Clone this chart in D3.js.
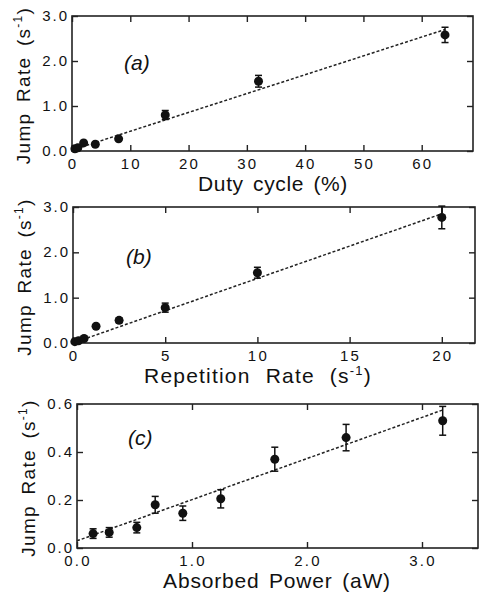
<!DOCTYPE html>
<html>
<head>
<meta charset="utf-8">
<script src="https://cdn.jsdelivr.net/npm/d3@7"></script>
<style>
  body { margin:0; background:#fff; }
  text { font-family:"Liberation Sans", Arial, sans-serif; fill:#111; }
</style>
</head>
<body>
<svg id="fig" width="479" height="592"></svg>
<script>
// panel (a): duty cycle
var dutyX   = [0.5, 1, 2, 4, 8, 16, 32, 64];
var dutyY   = [0.05, 0.07, 0.18, 0.15, 0.27, 0.80, 1.55, 2.58];
var dutyErr = [0, 0, 0, 0, 0, 0.10, 0.13, 0.17];
var dutyFit = [[0, 0.02], [64, 2.70]];
var dutyTicks = [0, 10, 20, 30, 40, 50, 60];

// panel (b): repetition rate
var repX   = [0.1, 0.3, 0.6, 1.25, 2.5, 5, 10, 20];
var repY   = [0.03, 0.05, 0.10, 0.37, 0.50, 0.78, 1.55, 2.77];
var repErr = [0, 0, 0, 0, 0.05, 0.10, 0.12, 0.25];
var repFit = [[0, 0.0], [20, 2.85]];
var repTicks = [0, 5, 10, 15, 20];

// panel (c): absorbed power
var powX   = [0.14, 0.28, 0.52, 0.68, 0.92, 1.25, 1.72, 2.34, 3.18];
var powY   = [0.06, 0.065, 0.085, 0.18, 0.145, 0.205, 0.37, 0.46, 0.53];
var powErr = [0.02, 0.02, 0.022, 0.035, 0.03, 0.038, 0.05, 0.055, 0.06];
var powFit = [[0, 0.03], [3.18, 0.575]];
var powTicks = [0, 1, 2, 3];

var rateTicks = [0, 1, 2, 3];
var powRateTicks = [0, 0.2, 0.4, 0.6];

var svg = d3.select("#fig");

function panel(p){
  var x = d3.scaleLinear().domain(p.xdom).range([p.left, p.right]);
  var y = d3.scaleLinear().domain(p.ydom).range([p.bottom, p.top]);
  var g = svg.append("g");

  // frame
  g.append("rect").attr("x", p.left).attr("y", p.top)
    .attr("width", p.right - p.left).attr("height", p.bottom - p.top)
    .attr("fill", "none").attr("stroke", "#222").attr("stroke-width", 1.6);

  var tl = 6;
  // inward ticks on all four sides
  g.append("g").attr("transform", "translate(0," + p.bottom + ")")
    .call(d3.axisTop(x).tickValues(p.xticks).tickSize(tl).tickFormat(""))
    .call(function(a){ a.select(".domain").remove(); });
  g.append("g").attr("transform", "translate(0," + p.top + ")")
    .call(d3.axisBottom(x).tickValues(p.xticks).tickSize(tl).tickFormat(""))
    .call(function(a){ a.select(".domain").remove(); });
  g.append("g").attr("transform", "translate(" + p.left + ",0)")
    .call(d3.axisRight(y).tickValues(p.yticks).tickSize(tl).tickFormat(""))
    .call(function(a){ a.select(".domain").remove(); });
  g.append("g").attr("transform", "translate(" + p.right + ",0)")
    .call(d3.axisLeft(y).tickValues(p.yticks).tickSize(tl).tickFormat(""))
    .call(function(a){ a.select(".domain").remove(); });
  g.selectAll(".tick line").attr("stroke", "#222").attr("stroke-width", 1.4);

  // tick labels
  g.selectAll(".xl").data(p.xticks).enter().append("text")
    .attr("x", function(d){ return x(d) + 1; }).attr("y", p.bottom + 18)
    .attr("text-anchor", "middle").attr("font-size", 15).attr("letter-spacing", 2.2)
    .text(p.xfmt);
  g.selectAll(".yl").data(p.yticks).enter().append("text")
    .attr("x", p.left - 3).attr("y", function(d){ return y(d) + 5; })
    .attr("text-anchor", "end").attr("font-size", 15).attr("letter-spacing", 2)
    .text(p.yfmt);

  // axis titles
  var xt = g.append("text").attr("x", p.xtitleX).attr("y", p.bottom + 40)
    .attr("text-anchor", "middle").attr("font-size", 21)
    .attr("letter-spacing", p.xls).attr("word-spacing", p.xws);
  xt.append("tspan").text(p.xtitle);
  if (p.xsup){
    xt.append("tspan").attr("font-size", 13).attr("dy", -8).text("-1");
    xt.append("tspan").attr("dy", 8).text(")");
  }
  var yt = g.append("text")
    .attr("transform", "translate(" + (p.left - 42) + "," + ((p.top + p.bottom) / 2 + 2) + ") rotate(-90)")
    .attr("text-anchor", "middle").attr("font-size", 19)
    .attr("letter-spacing", 1.3).attr("word-spacing", 4);
  yt.append("tspan").text("Jump Rate (s");
  yt.append("tspan").attr("font-size", 12).attr("dy", -8).text("-1");
  yt.append("tspan").attr("dy", 8).text(")");

  // panel letter
  g.append("text").attr("x", p.labelX).attr("y", p.labelY)
    .attr("font-size", 21).attr("font-style", "italic").text(p.label);

  // fit line
  g.append("path").datum(p.fit)
    .attr("d", d3.line().x(function(d){ return x(d[0]); }).y(function(d){ return y(d[1]); }))
    .attr("fill", "none").attr("stroke", "#222").attr("stroke-width", 1.5)
    .attr("stroke-dasharray", "3,2");

  var pts = p.xs.map(function(v, i){ return {x: v, y: p.ys[i], e: p.es[i]}; });
  var eb = g.selectAll(".eb").data(pts.filter(function(d){ return d.e > 0; })).enter().append("g");
  eb.append("line")
    .attr("x1", function(d){ return x(d.x); }).attr("x2", function(d){ return x(d.x); })
    .attr("y1", function(d){ return y(d.y - d.e); }).attr("y2", function(d){ return y(d.y + d.e); })
    .attr("stroke", "#111").attr("stroke-width", 1.5);
  [-1, 1].forEach(function(s){
    eb.append("line")
      .attr("x1", function(d){ return x(d.x) - 3.5; }).attr("x2", function(d){ return x(d.x) + 3.5; })
      .attr("y1", function(d){ return y(d.y + s * d.e); }).attr("y2", function(d){ return y(d.y + s * d.e); })
      .attr("stroke", "#111").attr("stroke-width", 1.5);
  });
  g.selectAll(".pt").data(pts).enter().append("circle")
    .attr("cx", function(d){ return x(d.x); }).attr("cy", function(d){ return y(d.y); })
    .attr("r", 4.5).attr("fill", "#111");
}

var f1 = function(d){ return d.toFixed(1); };
var f0 = function(d){ return d; };

panel({left: 72, right: 473, top: 16, bottom: 151, xdom: [0, 68.8], ydom: [0, 3],
  xticks: dutyTicks, yticks: rateTicks, xfmt: f0, yfmt: f1,
  xs: dutyX, ys: dutyY, es: dutyErr, fit: dutyFit,
  xtitle: "Duty cycle (%)", xtitleX: 273, xls: 0.6, xws: 3,
  label: "(a)", labelX: 124, labelY: 70});

panel({left: 73, right: 475, top: 207, bottom: 343, xdom: [0, 21.8], ydom: [0, 3],
  xticks: repTicks, yticks: rateTicks, xfmt: f0, yfmt: f1,
  xs: repX, ys: repY, es: repErr, fit: repFit,
  xtitle: "Repetition Rate (s", xsup: true, xtitleX: 258, xls: 1.2, xws: 8,
  label: "(b)", labelX: 126, labelY: 264});

panel({left: 77, right: 478, top: 404, bottom: 548, xdom: [0, 3.487], ydom: [0, 0.6],
  xticks: powTicks, yticks: powRateTicks, xfmt: f1, yfmt: f1,
  xs: powX, ys: powY, es: powErr, fit: powFit,
  xtitle: "Absorbed Power (aW)", xtitleX: 277, xls: 0.8, xws: 3,
  label: "(c)", labelX: 128, labelY: 445});
</script>
</body>
</html>
